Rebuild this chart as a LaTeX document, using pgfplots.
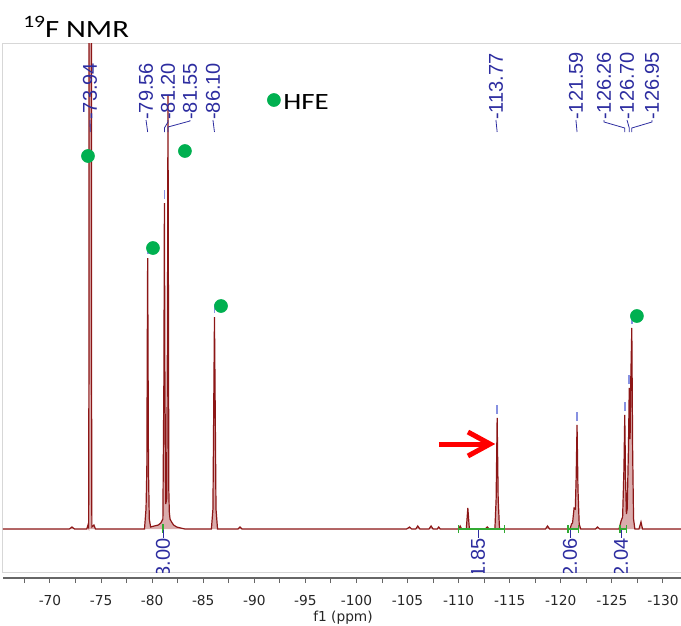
\documentclass[border=0pt]{standalone}
\usepackage{pgfplots}
\pgfplotsset{compat=1.18}
\usepackage{fontspec}
\setmainfont{Liberation Sans}
\newfontfamily\tickfont{DejaVu Sans}
\newfontfamily\callfont{Carlito}
\definecolor{spec}{RGB}{140,22,22}
\definecolor{specfill}{RGB}{218,172,172}
\definecolor{pklbl}{RGB}{45,45,160}
\definecolor{pkmark}{RGB}{135,145,225}
\definecolor{intg}{RGB}{50,170,50}
\definecolor{hfe}{RGB}{0,176,80}
\definecolor{frame}{RGB}{215,215,215}

\begin{document}
\begin{tikzpicture}[
  lbl/.style={rotate=90, inner sep=0pt, text=pklbl, font=\fontsize{15}{15}\selectfont},
  ldr/.style={draw=pklbl, line width=0.6pt},
  pk/.style={draw=pkmark, line width=1.3pt},
  ig/.style={draw=intg, line width=0.9pt},
]
\useasboundingbox (0,0) rectangle (510.75pt,-468.75pt);

% spectrum panel (1 y unit = 1 px above the baseline)
\begin{axis}[
  at={(2.25pt,-429pt)}, anchor=south west,
  scale only axis, width=510pt, height=396.75pt,
  x dir=reverse,
  xmin=-131.96, xmax=-65.40,
  ymin=-43, ymax=486,
  xtick=\empty, ytick=\empty,
  axis line style={draw=frame, line width=0.75pt},
  clip=true,
]
\addplot[draw=spec, line width=0.9pt, fill=specfill] coordinates {
  (-65.40,0) (-71.90,0) (-72.15,2) (-72.40,0)
  (-73.60,0) (-73.72,4) (-73.78,2) (-73.81,150) (-73.84,800) (-74.04,800) (-74.07,150) (-74.10,2) (-74.30,4) (-74.45,0)
  (-79.25,0) (-79.40,20) (-79.48,60) (-79.53,200) (-79.56,271) (-79.59,200) (-79.64,60) (-79.72,10) (-79.85,2)
  (-80.20,3) (-80.60,4) (-80.85,6) (-80.95,8)
  (-81.05,10) (-81.15,150) (-81.20,326) (-81.25,150) (-81.33,25)
  (-81.42,30) (-81.50,200) (-81.55,434) (-81.60,200) (-81.63,40) (-81.68,17)
  (-81.75,10) (-81.90,7) (-82.10,4) (-82.40,2) (-82.80,1) (-83.20,0)
  (-85.80,0) (-85.95,20) (-86.05,150) (-86.10,212) (-86.15,150) (-86.25,20) (-86.40,0)
  (-88.40,0) (-88.60,2) (-88.80,0)
  (-104.90,0) (-105.20,2) (-105.40,0) (-105.80,0) (-106.00,3) (-106.20,0)
  (-107.10,0) (-107.30,3) (-107.50,0) (-107.90,0) (-108.05,2) (-108.20,0)
  (-110.00,0) (-110.15,3) (-110.30,0) (-110.75,0) (-110.90,21) (-111.05,0)
  (-112.60,0) (-112.80,2) (-113.00,0)
  (-113.55,0) (-113.67,30) (-113.77,111) (-113.87,30) (-114.00,0)
  (-118.50,0) (-118.70,3) (-118.90,0)
  (-120.90,0) (-121.05,5) (-121.15,6) (-121.30,21) (-121.42,20) (-121.50,50) (-121.59,104) (-121.68,40) (-121.80,5) (-121.95,0)
  (-123.40,0) (-123.60,2) (-123.80,0)
  (-125.70,0) (-125.90,8) (-126.05,12) (-126.18,60) (-126.26,114) (-126.34,50) (-126.42,15) (-126.50,20)
  (-126.62,80) (-126.70,141) (-126.78,90) (-126.85,150) (-126.95,201) (-127.03,80) (-127.12,10) (-127.25,0)
  (-127.65,0) (-127.85,7) (-128.00,0)
  (-131.96,0)
};

% HFE markers
\addplot[only marks, mark=*, mark size=4.9pt, color=hfe] coordinates {
  (-73.72,373) (-80.08,281) (-83.21,378) (-86.74,223) (-127.45,213) (-91.92,429)
};
\node[anchor=base west, inner sep=0pt] at (axis cs:-92.81,420)
  {\callfont\fontsize{17.5}{18}\selectfont\scalebox{1.24}[1]{HFE}};

% peak-pick marks above the peak tops
\draw[pk] (axis cs:-79.56,275) -- (axis cs:-79.56,284);
\draw[pk] (axis cs:-81.20,330) -- (axis cs:-81.20,339);
\draw[pk] (axis cs:-86.10,216) -- (axis cs:-86.10,225);
\draw[pk] (axis cs:-113.77,115) -- (axis cs:-113.77,124);
\draw[pk] (axis cs:-121.59,108) -- (axis cs:-121.59,117);
\draw[pk] (axis cs:-126.26,118) -- (axis cs:-126.26,127);
\draw[pk] (axis cs:-126.70,145) -- (axis cs:-126.70,154);
\draw[pk] (axis cs:-126.95,205) -- (axis cs:-126.95,214);

% peak labels
\node[lbl, anchor=west] at (axis cs:-73.92,409) {-73.94};
\node[lbl, anchor=west] at (axis cs:-79.40,409) {-79.56};
\node[lbl, anchor=west] at (axis cs:-81.55,409) {-81.20};
\node[lbl, anchor=west] at (axis cs:-83.70,409) {-81.55};
\node[lbl, anchor=west] at (axis cs:-85.95,409) {-86.10};
\node[lbl, anchor=west] at (axis cs:-113.65,409) {-113.77};
\node[lbl, anchor=west] at (axis cs:-121.48,409) {-121.59};
\node[lbl, anchor=west] at (axis cs:-124.23,409) {-126.26};
\node[lbl, anchor=west] at (axis cs:-126.48,409) {-126.70};
\node[lbl, anchor=west] at (axis cs:-128.92,409) {-126.95};
\draw[ldr] (axis cs:-73.92,409) -- (axis cs:-73.94,397);
\draw[ldr] (axis cs:-79.40,409) -- (axis cs:-79.56,397);
\draw[ldr] (axis cs:-81.55,409) -- (axis cs:-81.55,407) -- (axis cs:-81.20,401) -- (axis cs:-81.20,397);
\draw[ldr] (axis cs:-83.70,409) -- (axis cs:-83.70,408) -- (axis cs:-81.55,402) -- (axis cs:-81.55,397);
\draw[ldr] (axis cs:-85.95,409) -- (axis cs:-86.10,397);
\draw[ldr] (axis cs:-113.65,409) -- (axis cs:-113.77,397);
\draw[ldr] (axis cs:-121.48,409) -- (axis cs:-121.59,397);
\draw[ldr] (axis cs:-124.23,409) -- (axis cs:-124.23,407) -- (axis cs:-126.26,401) -- (axis cs:-126.26,397);
\draw[ldr] (axis cs:-126.48,409) -- (axis cs:-126.70,401) -- (axis cs:-126.70,397);
\draw[ldr] (axis cs:-128.92,409) -- (axis cs:-128.92,407) -- (axis cs:-126.95,401) -- (axis cs:-126.95,397);

% integrals
\draw[ig] (axis cs:-80.95,0) -- (axis cs:-81.15,0);
\draw[ig] (axis cs:-81.06,-4) -- (axis cs:-81.06,5);
\draw[ig] (axis cs:-110.00,0) -- (axis cs:-114.50,0);
\draw[ig] (axis cs:-110.00,-4) -- (axis cs:-110.00,4);
\draw[ig] (axis cs:-114.50,-4) -- (axis cs:-114.50,4);
\draw[ig] (axis cs:-120.70,0) -- (axis cs:-121.70,0);
\draw[ig] (axis cs:-120.70,-4) -- (axis cs:-120.70,4);
\draw[ig] (axis cs:-121.70,-4) -- (axis cs:-121.70,4);
\draw[ig] (axis cs:-125.80,0) -- (axis cs:-126.40,0);
\draw[ig] (axis cs:-125.80,-4) -- (axis cs:-125.80,4);
\draw[ig] (axis cs:-126.40,-4) -- (axis cs:-126.40,4);
\draw[ldr] (axis cs:-81.06,-1) -- (axis cs:-81.06,-9);
\draw[ldr] (axis cs:-111.89,-1) -- (axis cs:-111.89,-9);
\draw[ldr] (axis cs:-120.90,-1) -- (axis cs:-120.90,-9);
\draw[ldr] (axis cs:-125.89,-1) -- (axis cs:-125.89,-9);
\node[lbl, anchor=east] at (axis cs:-81.06,-9) {3.00};
\node[lbl, anchor=east] at (axis cs:-111.89,-9) {1.85};
\node[lbl, anchor=east] at (axis cs:-120.90,-9) {2.06};
\node[lbl, anchor=east] at (axis cs:-125.89,-9) {2.04};

% red arrow
\draw[red, line width=3.75pt] (axis cs:-108.07,85) -- (axis cs:-112.70,85);
\draw[red, line width=3.75pt, line join=miter] (axis cs:-110.91,97) -- (axis cs:-113.07,85) -- (axis cs:-110.91,73);
\end{axis}

% ppm scale
\begin{axis}[
  at={(2.25pt,-433.5pt)}, anchor=south west,
  scale only axis, width=510pt, height=1pt,
  x dir=reverse,
  xmin=-131.96, xmax=-65.40,
  ymin=0, ymax=1,
  axis x line=bottom, axis y line=none,
  x axis line style={-, draw=black!60, line width=1pt},
  xtick={-130,-125,-120,-115,-110,-105,-100,-95,-90,-85,-80,-75,-70},
  xticklabels={-130,-125,-120,-115,-110,-105,-100,-95,-90,-85,-80,-75,-70},
  minor xtick={-127.5,-122.5,-117.5,-112.5,-107.5,-102.5,-97.5,-92.5,-87.5,-82.5,-77.5,-72.5,-67.5},
  tick align=outside,
  major tick length=3.75pt, minor tick length=3.75pt,
  tick style={draw=black!60, line width=0.75pt},
  ytick=\empty,
  xticklabel style={font=\tickfont\fontsize{10.3}{12}\selectfont, text=black!85, yshift=-6pt},
  xlabel={f1 (ppm)},
  xlabel style={font=\tickfont\fontsize{10.3}{12}\selectfont, text=black!85, yshift=3pt},
]
\end{axis}

\node[anchor=base west, inner sep=0pt] at (17.25pt,-27.75pt)
  {\callfont\fontsize{18.6}{20}\selectfont\scalebox{1.24}[1]{\raisebox{7.5pt}{\fontsize{13}{13}\selectfont 19}F NMR}};
\end{tikzpicture}
\end{document}
